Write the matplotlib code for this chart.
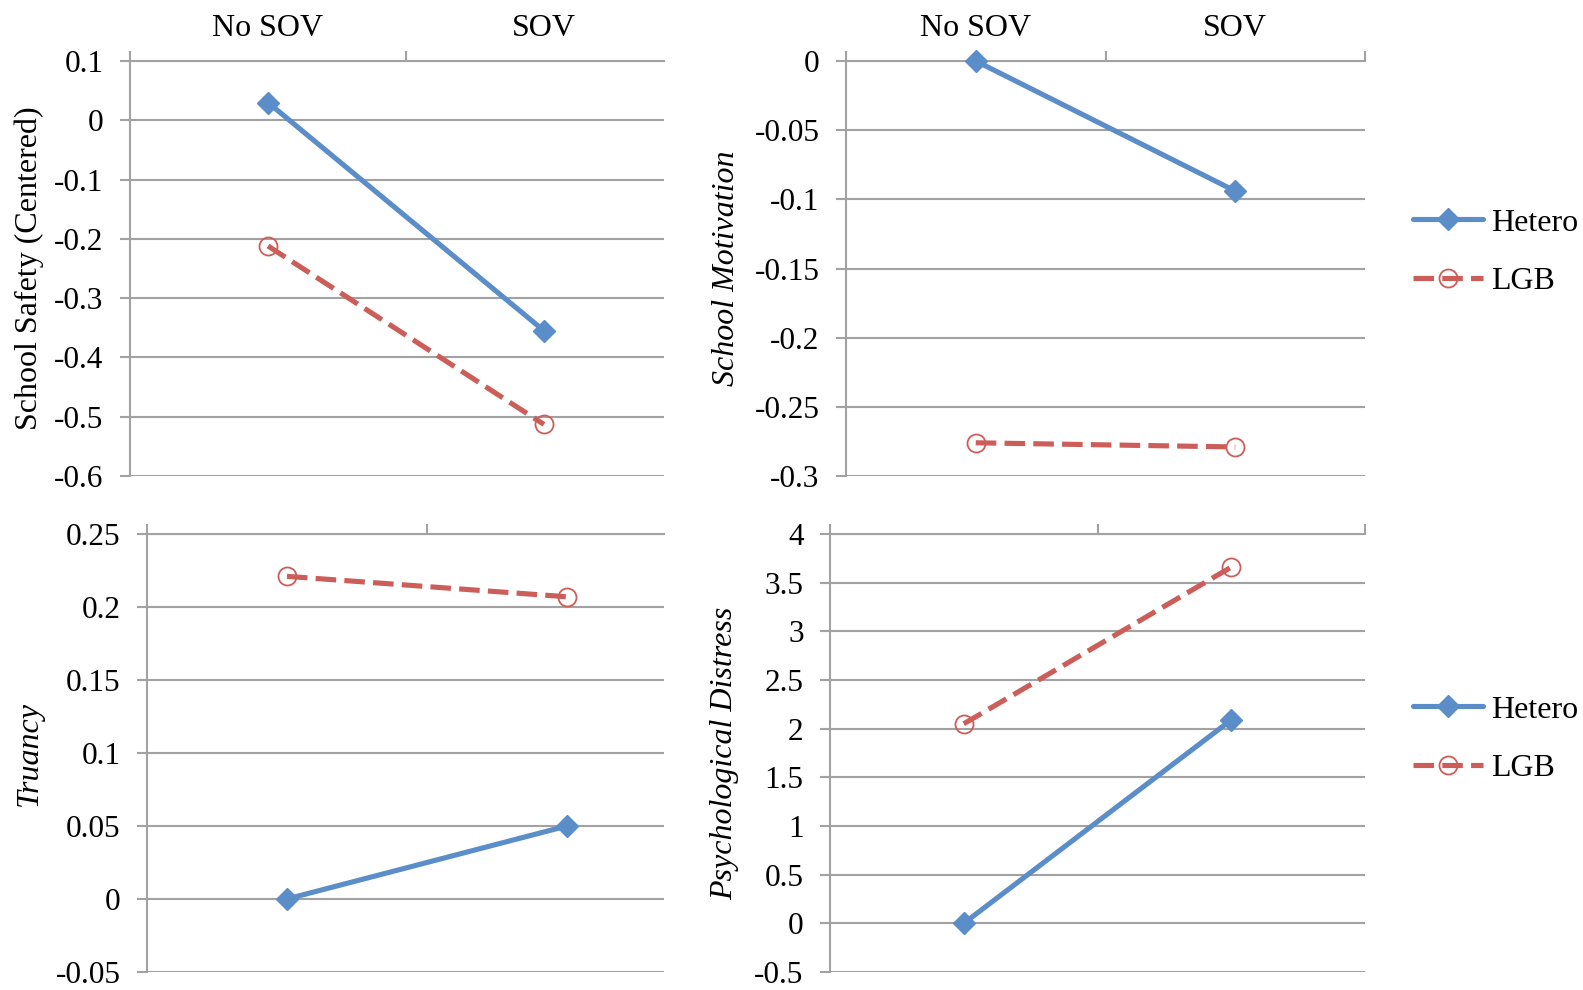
import matplotlib
matplotlib.use("Agg")
import matplotlib.pyplot as plt
from matplotlib.ticker import FixedLocator, NullFormatter

plt.rcParams['font.family'] = ['Liberation Serif', 'DejaVu Serif']
plt.rcParams['axes.unicode_minus'] = False

# ---- data ----
categories = ["No SOV", "SOV"]
series_names = ["Hetero", "LGB"]

safety_hetero = [0.03, -0.355]
safety_lgb = [-0.212, -0.513]

motivation_hetero = [0.0, -0.094]
motivation_lgb = [-0.276, -0.279]

truancy_hetero = [0.0, 0.05]
truancy_lgb = [0.221, 0.207]

distress_hetero = [0.0, 2.09]
distress_lgb = [2.05, 3.66]

safety_ticks = [0.1, 0, -0.1, -0.2, -0.3, -0.4, -0.5, -0.6]
motivation_ticks = [0, -0.05, -0.1, -0.15, -0.2, -0.25, -0.3]
truancy_ticks = [0.25, 0.2, 0.15, 0.1, 0.05, 0, -0.05]
distress_ticks = [4, 3.5, 3, 2.5, 2, 1.5, 1, 0.5, 0, -0.5]

# ---- style ----
W, H = 1583, 990
BLUE = '#5B8DC8'
RED = '#CC5D58'
GRID = '#A2A2A2'
FS = 23
TFS = 22.5

fig = plt.figure(figsize=(W / 100, H / 100), dpi=100)


def rect(l, t, r, b):
    return [l / W, 1 - b / H, (r - l) / W, (b - t) / H]


def panel(r, hetero, lgb, ticks, ylabel, italic, xmax, show_cats, label_x):
    ax = fig.add_axes(r)
    x = list(range(len(categories)))
    ax.plot(x, hetero, color=BLUE, lw=3.7, marker='D', ms=11.5,
            mfc=BLUE, mec=BLUE, solid_capstyle='round', clip_on=False,
            zorder=3, label=series_names[0])
    ax.plot(x, lgb, color=RED, lw=3.7, ls=(0, (4, 1.6)), marker='o', ms=13,
            mfc='none', mec=RED, mew=1.3, clip_on=False, zorder=3,
            label=series_names[1])
    ax.set_ylim(min(ticks), max(ticks))
    ax.set_xlim(-0.5, xmax)
    ax.set_yticks(ticks)
    ax.set_yticklabels(['{:g}'.format(t) for t in ticks])
    ax.tick_params(axis='y', direction='out', length=7, width=1.5,
                   color=GRID, pad=12, labelsize=TFS)
    ax.xaxis.tick_top()
    ax.xaxis.set_major_locator(FixedLocator([-0.5, 0.5, 1.5]))
    ax.xaxis.set_major_formatter(NullFormatter())
    ax.xaxis.set_minor_locator(FixedLocator(x))
    if show_cats:
        ax.set_xticklabels(categories, minor=True)
    else:
        ax.xaxis.set_minor_formatter(NullFormatter())
    ax.tick_params(axis='x', which='major', direction='out', length=7,
                   width=1.5, color=GRID)
    ax.tick_params(axis='x', which='minor', length=0, pad=13, labelsize=FS)
    ax.grid(axis='y', color=GRID, lw=1.5)
    ax.set_axisbelow(True)
    for s in ['right', 'bottom']:
        ax.spines[s].set_visible(False)
    for s in ['left', 'top']:
        ax.spines[s].set_color(GRID)
        ax.spines[s].set_linewidth(1.5)
    ax.set_ylabel(ylabel, fontsize=FS, style='italic' if italic else 'normal',
                  va='center')
    ax.yaxis.set_label_coords((label_x - r[0] * W) / (r[2] * W), 0.5)
    return ax


ax1 = panel(rect(130, 61, 664, 476), safety_hetero, safety_lgb, safety_ticks,
            "School Safety (Centered)", False, 1.435, True, 29)
ax2 = panel(rect(846, 61, 1365, 476), motivation_hetero, motivation_lgb,
            motivation_ticks, "School Motivation", True, 1.5, True, 727)
ax3 = panel(rect(147, 534, 664, 972), truancy_hetero, truancy_lgb,
            truancy_ticks, "Truancy", True, 1.347, False, 29)
ax4 = panel(rect(830, 534, 1365, 972), distress_hetero, distress_lgb,
            distress_ticks, "Psychological Distress", True, 1.5, False, 725)

for ax, yc in [(ax2, 252), (ax4, 739)]:
    h, l = ax.get_legend_handles_labels()
    fig.legend(h, l, loc='center left', bbox_to_anchor=(1413 / W, 1 - yc / H),
               frameon=False, fontsize=FS, handlelength=2.2,
               handletextpad=0.23, labelspacing=0.9, borderpad=0,
               borderaxespad=0)

fig.savefig("out.png", dpi=100)
